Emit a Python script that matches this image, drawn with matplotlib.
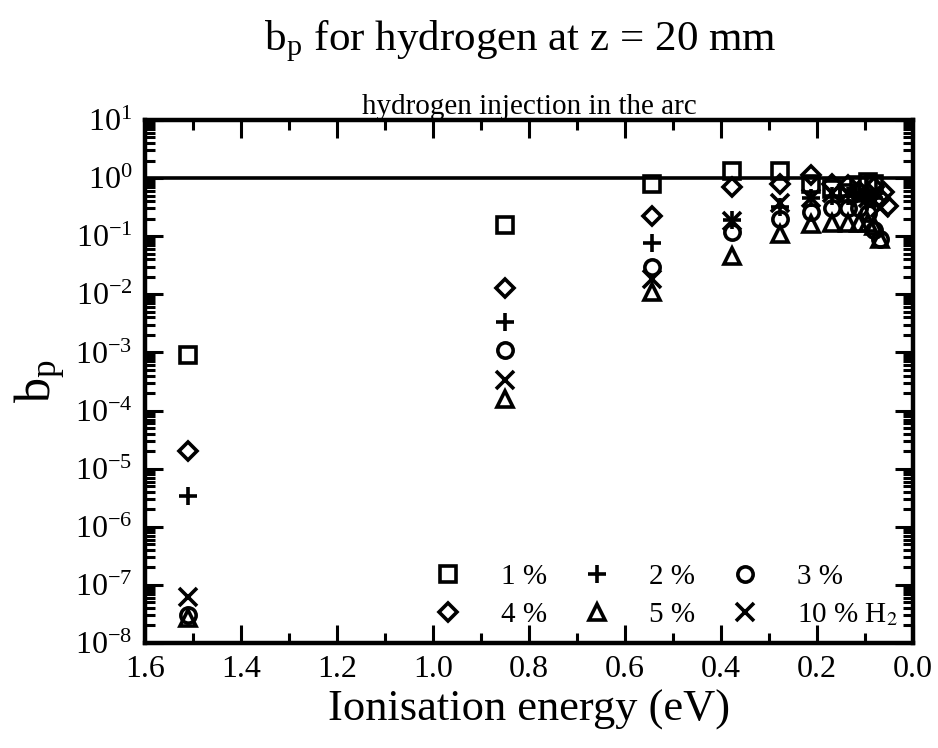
import numpy as np
import matplotlib
matplotlib.use("Agg")
import matplotlib.pyplot as plt
from matplotlib.ticker import MultipleLocator, LogLocator, NullFormatter

plt.rcParams['font.family'] = ['Liberation Serif', 'DejaVu Serif']
plt.rcParams['mathtext.fontset'] = 'stix'

# hydrogen level ionisation energies (eV), n = 3 .. 16
energy = [1.511, 0.850, 0.544, 0.378, 0.278, 0.2125, 0.168, 0.136,
          0.112, 0.0944, 0.0805, 0.0694, 0.0604, 0.0531]
nan = np.nan

# b_p per H2 fraction injected in the arc
bp_1 = [9e-4, 0.156, 0.80, 1.30, 1.30, 0.80, 0.65, 0.55, 0.75, 0.85, 0.80, nan, nan, nan]
bp_2 = [3.4e-6, 3.4e-3, 0.075, 0.19, 0.32, 0.45, 0.50, 0.50, 0.55, 0.50, 0.45, nan, nan, nan]
bp_3 = [3e-8, 1.1e-3, 0.030, 0.12, 0.20, 0.26, 0.30, 0.30, 0.30, 0.25, 0.13, 0.09, nan, nan]
bp_4 = [2e-5, 0.013, 0.22, 0.70, 0.78, 1.15, 0.80, 0.75, 0.60, 0.55, 0.70, 0.45, 0.57, 0.33]
bp_5 = [2.7e-8, 1.6e-4, 0.011, 0.046, 0.11, 0.165, 0.17, 0.17, 0.17, 0.17, 0.15, 0.09, nan, nan]
bp_10 = [6.2e-8, 3.4e-4, 0.018, 0.18, 0.37, 0.45, 0.55, 0.55, 0.50, 0.45, 0.40, 0.30, nan, nan]

series = [
    (bp_1, 's', '1 %'),
    (bp_4, 'D', '4 %'),
    (bp_2, '+', '2 %'),
    (bp_5, '^', '5 %'),
    (bp_3, 'o', '3 %'),
    (bp_10, 'x', '10 % H$_2$'),
]

fig = plt.figure(figsize=(9.38, 7.48), dpi=100)
ax = fig.add_axes([0.1546, 0.1404, 0.8188, 0.6992])

for vals, mk, lab in series:
    size = 11
    if mk == 'D':
        size = 9.5
    elif mk in ('+', 'x'):
        size = 13
    ax.plot(energy, vals, linestyle='none', marker=mk, markersize=size,
            markerfacecolor='none', markeredgecolor='black',
            markeredgewidth=2.6, color='black', label=lab)

ax.axhline(1.0, color='black', lw=2.6)

ax.set_yscale('log')
ax.set_xlim(1.6, 0.0)
ax.set_ylim(1e-8, 1e1)
ax.xaxis.set_major_locator(MultipleLocator(0.2))
ax.xaxis.set_minor_locator(MultipleLocator(0.1))
ax.yaxis.set_major_locator(LogLocator(base=10, numticks=20))
ax.yaxis.set_minor_locator(LogLocator(base=10, subs=np.arange(2, 10), numticks=20))
ax.yaxis.set_minor_formatter(NullFormatter())

ax.tick_params(which='both', direction='in', top=True, right=True,
               width=2.2, labelsize=23, colors='black')
ax.tick_params(which='major', length=13, pad=9)
ax.tick_params(which='minor', length=7)
for sp in ax.spines.values():
    sp.set_linewidth(3.2)

ax.set_xlabel('Ionisation energy (eV)', fontsize=32, labelpad=4)
ax.set_ylabel('b$_\\mathregular{p}$', fontsize=36, labelpad=6)
ax.set_title('hydrogen injection in the arc', fontsize=21, pad=0)
fig.text(0.555, 0.945, 'b$_\\mathregular{p}$ for hydrogen at z = 20 mm',
         fontsize=31, ha='center', va='center')

ax.legend(ncol=3, loc='lower right', bbox_to_anchor=(1.0, 0.0),
          frameon=False, fontsize=21, handlelength=1.0, handletextpad=1.3,
          columnspacing=1.2, labelspacing=0.4, borderaxespad=0.1)

fig.savefig('out.png', dpi=100)
